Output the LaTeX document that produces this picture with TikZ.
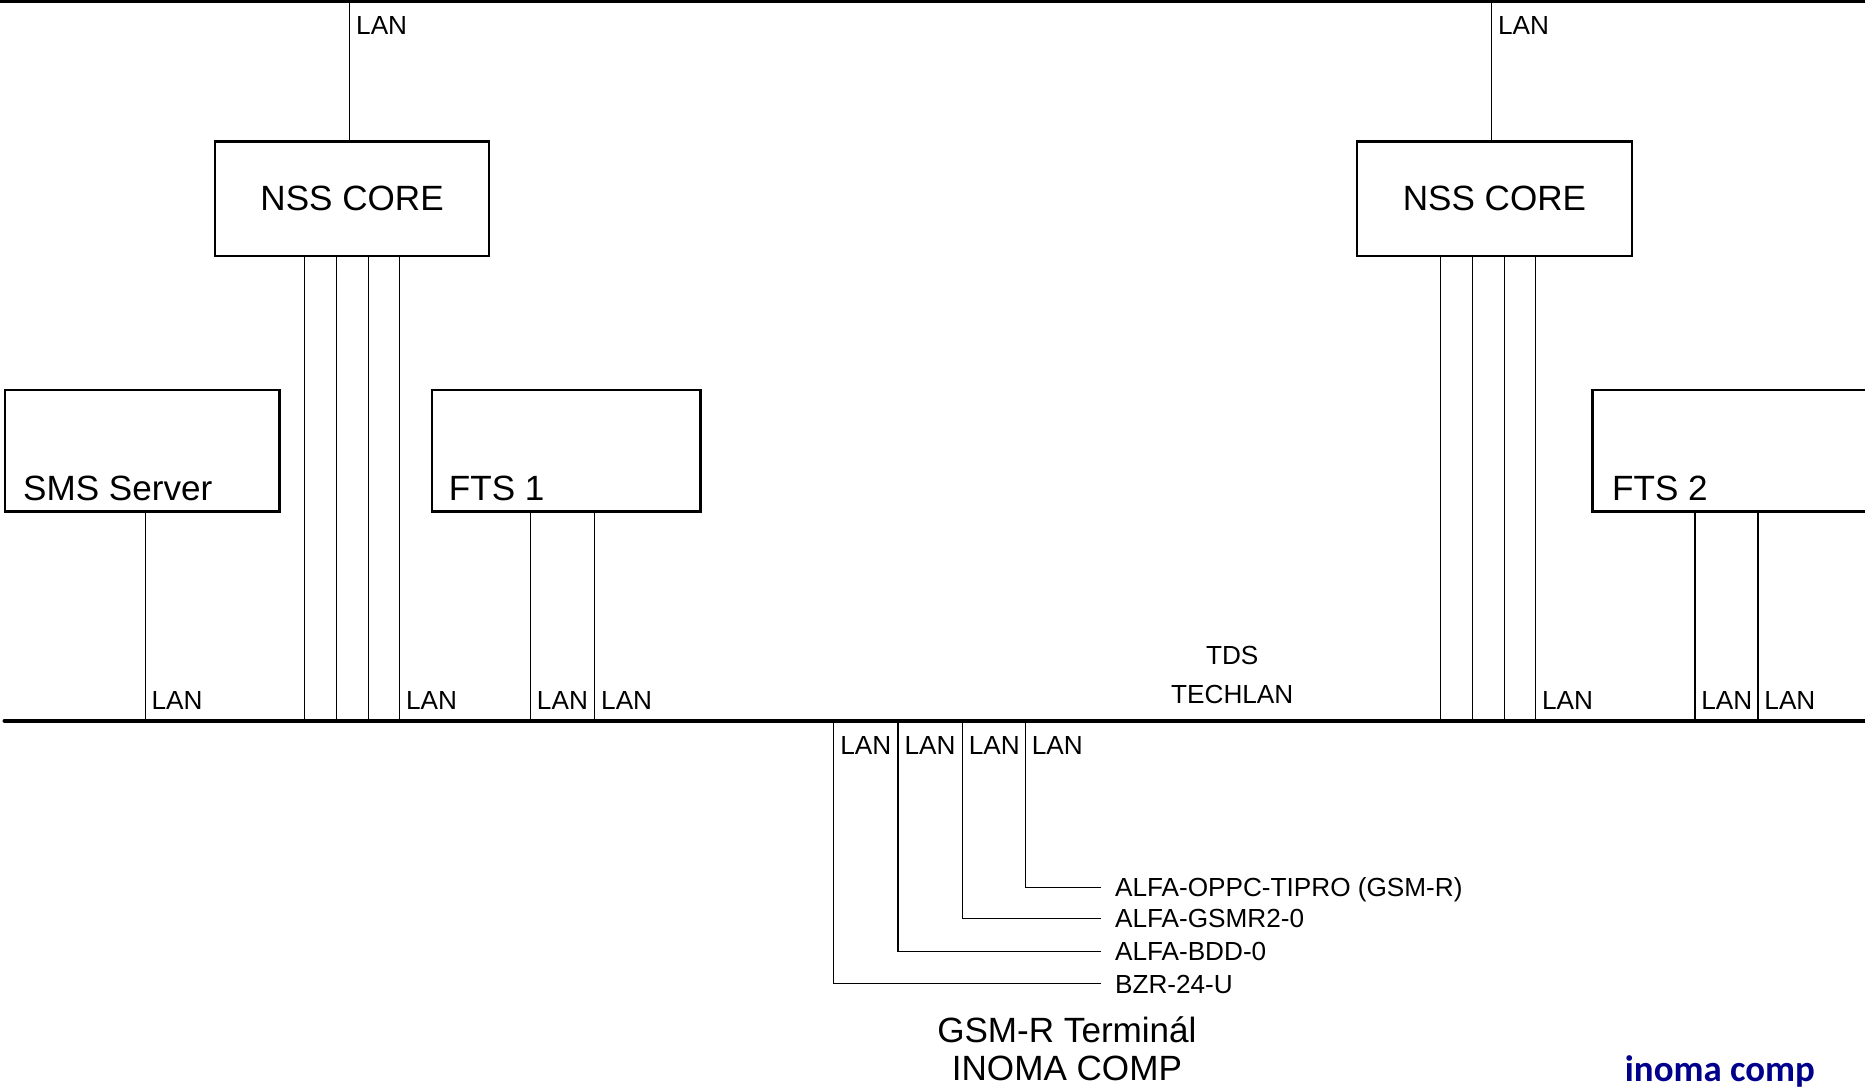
\documentclass[tikz,border=0pt]{standalone}
\usepackage{fontspec}
\setmainfont{Liberation Sans}
\newfontfamily\logofont{Carlito}
\definecolor{inomablue}{RGB}{0,0,140}

\begin{document}
\begin{tikzpicture}[x=1pt, y=-1pt, line width=0.95pt,
  devbox/.style={draw, line width=2pt, inner sep=0pt},
  busline/.style={line width=3.8pt, line cap=round},
  lanlbl/.style={font=\fontsize{22}{33}\selectfont, inner sep=0pt},
  bigtxt/.style={font=\fontsize{29.5}{32}\selectfont, inner sep=0pt},
  lanup/.style={lanlbl, anchor=south west, inner xsep=5pt, inner ysep=9pt},
  landown/.style={lanlbl, anchor=north west, inner xsep=5pt, inner ysep=12.5pt},
  itemlbl/.style={lanlbl, anchor=west, inner xsep=11pt, text height=15.8pt, text depth=0pt}]
  \useasboundingbox (0,0) rectangle (1568,915);
  \clip (0,0) rectangle (1568,915);

  \coordinate (topL) at (0,0.5);
  \coordinate (topR) at (1568,0.5);
  \coordinate (lanL) at (4,606);
  \coordinate (lanR) at (1568,606);
  \draw[busline] (topL) -- (topR);
  \draw[busline] (lanL) -- (lanR);

  \node[devbox, bigtxt, minimum width=230pt, minimum height=96pt] (nssA) at (296,167) {NSS CORE};
  \node[devbox, bigtxt, minimum width=231pt, minimum height=96pt] (nssB) at (1256.5,167) {NSS CORE};
  \node[devbox, minimum width=231pt, minimum height=102pt] (sms) at (119.5,379) {};
  \node[devbox, minimum width=226pt, minimum height=102pt] (ftsA) at (476,379) {};
  \node[devbox, minimum width=260pt, minimum height=102pt] (ftsB) at (1469,379) {};
  \node[bigtxt, anchor=base west] (smstxt) at ([xshift=16pt, yshift=10pt]sms.south west) {SMS Server};
  \node[bigtxt, anchor=base west] (ftsAtxt) at ([xshift=15pt, yshift=10pt]ftsA.south west) {FTS 1};
  \node[bigtxt, anchor=base west] (ftsBtxt) at ([xshift=17pt, yshift=10pt]ftsB.south west) {FTS 2};

  % uplinks
  \draw ([xshift=-2pt]nssA.north) -- ([xshift=-2pt]nssA.north |- topL) node[landown] {LAN};
  \draw ([xshift=-2.5pt]nssB.north) -- ([xshift=-2.5pt]nssB.north |- topL) node[landown] {LAN};

  % techlan
  \foreach \dx in {-40,-13,14} \draw ([xshift=\dx pt]nssA.south) -- ([xshift=\dx pt]nssA.south |- lanL);
  \draw ([xshift=40pt]nssA.south) -- ([xshift=40pt]nssA.south |- lanL) node[lanup] {LAN};
  \foreach \dx in {-45.5,-18.5,8.5} \draw ([xshift=\dx pt]nssB.south) -- ([xshift=\dx pt]nssB.south |- lanL);
  \draw ([xshift=34.5pt]nssB.south) -- ([xshift=34.5pt]nssB.south |- lanL) node[lanup] {LAN};
  \draw ([xshift=2.5pt]sms.south) -- ([xshift=2.5pt]sms.south |- lanL) node[lanup] {LAN};
  \foreach \dx in {84,138} \draw ([xshift=\dx pt]ftsA.south west) -- ([xshift=\dx pt]ftsA.south west |- lanL) node[lanup] {LAN};
  \foreach \dx in {87,140} \draw ([xshift=\dx pt]ftsB.south west) -- ([xshift=\dx pt]ftsB.south west |- lanL) node[lanup] {LAN};
  \node[lanlbl, align=center] (tds) at (1036,567.5) {TDS\\TECHLAN};

  % terminal
  \coordinate (t1) at (701,606);
  \coordinate (t2) at (755,606);
  \coordinate (t3) at (809,606);
  \coordinate (t4) at (862,606);
  \node[itemlbl] (oppc) at (926,746) {ALFA-OPPC-TIPRO (GSM-R)};
  \node[itemlbl] (gsmr) at (926,772) {ALFA-GSMR2-0};
  \node[itemlbl] (bdd) at (926,800) {ALFA-BDD-0};
  \node[itemlbl] (bzr) at (926,827) {BZR-24-U};
  \draw (t1) |- (bzr.west);
  \draw (t2) |- (bdd.west);
  \draw (t3) |- (gsmr.west);
  \draw (t4) |- (oppc.west);
  \foreach \t in {t1,t2,t3,t4} \node[landown] at (\t) {LAN};
  \node[bigtxt, align=center] (term) at (897,882) {GSM-R Terminál\\INOMA COMP};

  \node[font=\logofont\bfseries\fontsize{31}{36}\selectfont, text=inomablue, inner sep=0pt] (logo) at (1446,901) {inoma comp};
\end{tikzpicture}
\end{document}
